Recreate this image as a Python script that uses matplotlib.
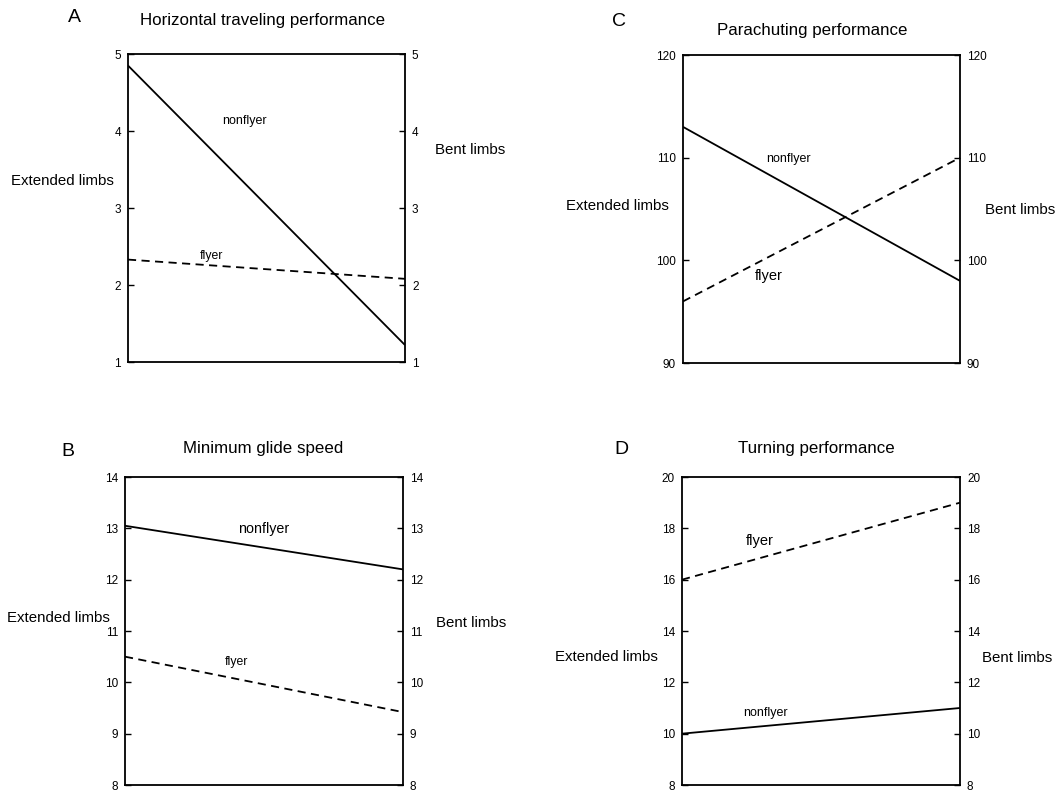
import matplotlib
matplotlib.use("Agg")
import matplotlib.pyplot as plt
import matplotlib.transforms as mtransforms

plt.rcParams['font.family'] = ['Liberation Sans', 'DejaVu Sans']

W, H = 1062, 794

# ---- data ----
conditions = ["Extended limbs", "Bent limbs"]
x_pos = [0, 1]

# A: Horizontal traveling performance
a_nonflyer = [4.85, 1.22]
a_flyer = [2.33, 2.08]
a_ticks = [1, 2, 3, 4, 5]

# B: Minimum glide speed
b_nonflyer = [13.05, 12.2]
b_flyer = [10.5, 9.42]
b_ticks = [8, 9, 10, 11, 12, 13, 14]

# C: Parachuting performance
c_nonflyer = [113.0, 98.0]
c_flyer = [96.0, 110.0]
c_ticks = [90, 100, 110, 120]

# D: Turning performance
d_nonflyer = [10.0, 11.0]
d_flyer = [16.0, 19.0]
d_ticks = [8, 10, 12, 14, 16, 18, 20]

titles = ["Horizontal traveling performance", "Minimum glide speed",
          "Parachuting performance", "Turning performance"]
letters = ["A", "B", "C", "D"]

fig = plt.figure(figsize=(W / 100, H / 100), dpi=100)


def add_panel(box, nonflyer, flyer, ticks, non_lab, fly_lab, lab_sizes, ylab_y,
              ext_x, bent_x, title, title_px, letter, letter_px):
    l, r, t, b = box
    ax = fig.add_axes([l / W, 1 - b / H, (r - l) / W, (b - t) / H])
    ax.plot(x_pos, nonflyer, color='black', lw=1.3, solid_capstyle='butt')
    ax.plot(x_pos, flyer, color='black', lw=1.3, ls=(0, (4.5, 3)))
    ax.set_xlim(0, 1)
    ax.set_ylim(ticks[0], ticks[-1])
    ax.set_xticks([])
    ax.set_yticks(ticks)
    ax.tick_params(axis='y', direction='in', length=4, width=1, labelsize=8.5,
                   pad=5, left=True, right=True, labelleft=True, labelright=True)
    for s in ax.spines.values():
        s.set_linewidth(1.3)
    ax.text(non_lab[0], non_lab[1], "nonflyer", fontsize=lab_sizes[0],
            ha='center', va='center')
    ax.text(fly_lab[0], fly_lab[1], "flyer", fontsize=lab_sizes[1],
            ha='center', va='center')
    trans = mtransforms.blended_transform_factory(ax.transAxes, ax.transData)
    ax.text(ext_x, ylab_y[0], conditions[0], transform=trans, fontsize=10.8,
            ha='center', va='center')
    ax.text(bent_x, ylab_y[1], conditions[1], transform=trans, fontsize=10.8,
            ha='center', va='center')
    fig.text(title_px[0] / W, 1 - title_px[1] / H, title, fontsize=12.2,
             ha='center', va='center')
    fig.text(letter_px[0] / W, 1 - letter_px[1] / H, letter, fontsize=14,
             ha='center', va='center')
    return ax


add_panel((128, 405, 54, 362), a_nonflyer, a_flyer, a_ticks,
          (0.42, 4.13), (0.30, 2.38), (9, 8.8), (3.35, 3.75), -0.235, 1.235,
          titles[0], (263, 20), letters[0], (74, 18))
add_panel((125, 403, 477, 785), b_nonflyer, b_flyer, b_ticks,
          (0.50, 12.99), (0.40, 10.39), (10.3, 8.8), (11.25, 11.15), -0.241, 1.245,
          titles[1], (263, 448), letters[1], (68, 451))
add_panel((683, 960, 55, 363), c_nonflyer, c_flyer, c_ticks,
          (0.38, 109.9), (0.31, 98.5), (9, 10.5), (105.3, 104.9), -0.235, 1.217,
          titles[2], (812, 30), letters[2], (619, 22))
add_panel((682, 960, 477, 785), d_nonflyer, d_flyer, d_ticks,
          (0.30, 10.81), (0.28, 17.52), (9, 10.5), (13.0, 12.94), -0.273, 1.205,
          titles[3], (816, 448), letters[3], (621, 450))

fig.savefig("out.png", dpi=100, facecolor='white')
